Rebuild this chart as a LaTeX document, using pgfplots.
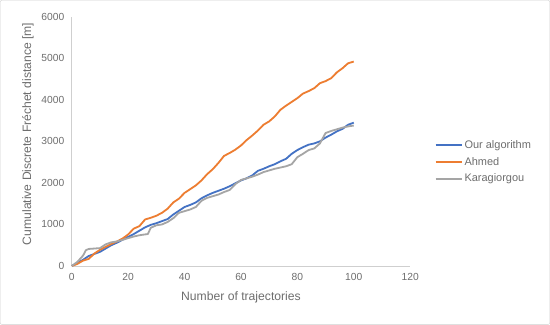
\documentclass[border=0pt]{standalone}
\usepackage{pgfplots}
\pgfplotsset{compat=1.18}
\usepackage{fontspec}
\setmainfont{Liberation Sans}
\definecolor{xblue}{HTML}{4472C4}
\definecolor{xorange}{HTML}{ED7D31}
\definecolor{xgray}{HTML}{A5A5A5}
\definecolor{txt}{HTML}{6E6E6E}
\definecolor{axl}{HTML}{CFCFCF}
\begin{document}
\begin{tikzpicture}
\draw[draw=axl, fill=white, rounded corners=2bp] (0.5bp,0.5bp) rectangle (549.5bp,324.5bp);
\begin{axis}[
  at={(72bp,59bp)}, anchor=south west,
  scale only axis, width=338bp, height=249bp,
  xmin=0, xmax=120, ymin=0, ymax=6000,
  xtick={0,20,...,120}, ytick={0,1000,...,6000},
  axis x line*=bottom, axis y line*=left,
  axis line style={draw=axl, line width=0.8bp, -},
  major tick length=0pt,
  tick label style={font=\fontsize{10.3}{12}\selectfont, text=txt},
  /pgf/number format/assume math mode=true,
  scaled y ticks=false,
  yticklabel style={/pgf/number format/1000 sep={}},
  xticklabel style={yshift=-4bp},
  yticklabel style={xshift=-4bp},
  xlabel={Number of trajectories},
  ylabel={Cumulative Discrete Fréchet distance [m]},
  label style={font=\fontsize{12.2}{14}\selectfont, text=txt},
  xlabel style={at={(axis description cs:0.5,-0.124)}, anchor=center},
  ylabel style={at={(axis description cs:-0.13,0.53)}, anchor=center},
  legend style={at={(axis description cs:1.072,0.418)}, anchor=west, draw=none, fill=none,
    font=\fontsize{11}{13}\selectfont, text=txt, row sep=3.5bp, inner sep=0pt},
  legend cell align=left,
  legend image code/.code={\draw[#1, line width=1.8bp] (0bp,0bp) -- (26bp,0bp);},
  every axis plot/.append style={line width=1.8bp, line join=round, mark=none},
  clip=false,
]
\addplot[xblue] coordinates {
(0,0)(2,70)(4,150)(6,240)(8,290)(10,340)(12,420)(14,500)(16,560)(18,630)(20,700)
(22,770)(24,850)(26,930)(28,990)(30,1030)(32,1080)(34,1130)(36,1240)(38,1330)(40,1420)
(42,1470)(44,1530)(46,1630)(48,1700)(50,1760)(52,1810)(54,1860)(56,1920)(58,1990)(60,2060)
(62,2110)(64,2180)(66,2290)(68,2340)(70,2400)(72,2450)(74,2520)(76,2580)(78,2700)(80,2790)
(82,2860)(84,2920)(86,2950)(88,3000)(90,3090)(92,3160)(94,3240)(96,3300)(98,3400)(100,3450)
};
\addlegendentry{Our algorithm}
\addplot[xorange] coordinates {
(0,0)(2,50)(4,130)(6,170)(8,300)(10,390)(12,460)(14,530)(16,590)(18,660)(20,760)
(22,900)(24,960)(26,1120)(28,1160)(30,1210)(32,1280)(34,1380)(36,1530)(38,1620)(40,1760)
(42,1850)(44,1940)(46,2060)(48,2210)(50,2330)(52,2480)(54,2650)(56,2720)(58,2800)(60,2900)
(62,3030)(64,3140)(66,3260)(68,3400)(70,3480)(72,3600)(74,3760)(76,3860)(78,3950)(80,4040)
(82,4150)(84,4210)(86,4280)(88,4400)(90,4450)(92,4520)(94,4660)(96,4760)(98,4880)(100,4920)
};
\addlegendentry{Ahmed}
\addplot[xgray] coordinates {
(0,0)(2,100)(4,250)(5,380)(6,410)(8,420)(10,430)(12,520)(14,570)(16,590)(18,630)(20,670)
(22,710)(24,740)(26,760)(27,770)(28,920)(30,980)(32,1000)(34,1060)(36,1150)(38,1280)(40,1320)
(42,1360)(44,1420)(46,1570)(48,1640)(50,1680)(52,1720)(54,1780)(56,1830)(58,1970)(60,2070)
(62,2110)(64,2150)(66,2200)(68,2260)(70,2300)(72,2340)(74,2370)(76,2400)(78,2450)(80,2620)
(82,2700)(84,2790)(86,2830)(88,2950)(90,3200)(92,3250)(94,3290)(96,3330)(98,3360)(100,3380)
};
\addlegendentry{Karagiorgou}
\end{axis}
\end{tikzpicture}
\end{document}
